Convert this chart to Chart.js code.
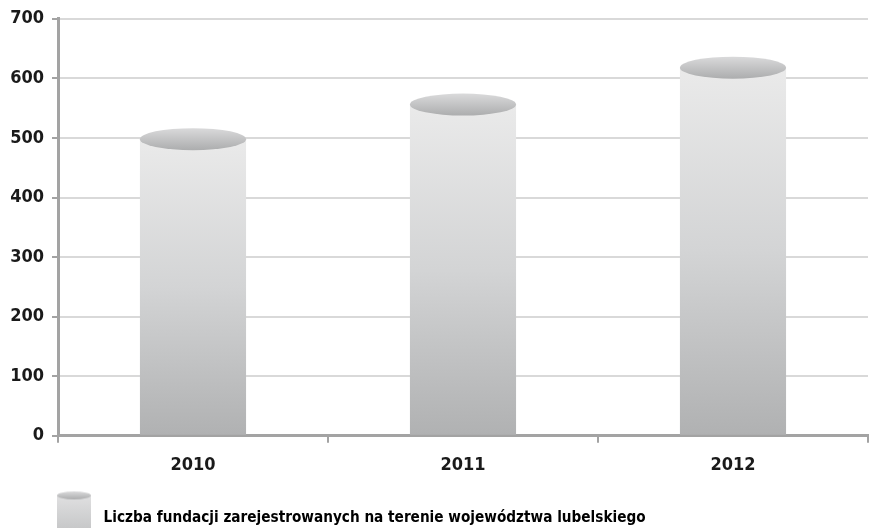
<!DOCTYPE html>
<html>
<head>
<meta charset="utf-8">
<script src="https://cdn.jsdelivr.net/npm/chart.js@4.4.0/dist/chart.umd.min.js"></script>
<style>
  html, body { margin: 0; padding: 0; background: #fff; }
  #wrap { width: 870px; height: 528px; }
</style>
</head>
<body>
<div id="wrap"><canvas id="wykres"></canvas></div>
<script>
// ===== DANE =====
const lata = ['2010', '2011', '2012'];
const liczbaFundacji = [498, 556, 618];
const etykietaSerii = 'Liczba fundacji zarejestrowanych na terenie województwa lubelskiego';
const osY = { min: 0, max: 700, krok: 100 };

const CZCIONKA = "'DejaVu Sans Condensed', 'Liberation Sans Narrow', sans-serif";
const SZARY_OSI = '#a3a3a3';
const WYS_DEKLA = 22;      // wysokość elipsy na górze walca
const ROZM_LEGENDY = 15.2;
const ODSTEP_LEGENDY = 22;

function gradientKorpusu(ctx, gora, dol) {
    const g = ctx.createLinearGradient(0, gora, 0, dol);
    g.addColorStop(0, '#eaeaea');
    g.addColorStop(0.5, '#d3d4d5');
    g.addColorStop(1, '#b0b1b2');
    return g;
}

function gradientDekla(ctx, gora, dol) {
    const g = ctx.createLinearGradient(0, gora, 0, dol);
    g.addColorStop(0, '#dadadb');
    g.addColorStop(1, '#acadae');
    return g;
}

// ikonka walca do legendy (pusty margines z lewej przesuwa ją pod oś Y)
function ikonaWalca() {
    const c = document.createElement('canvas');
    c.width = 74; c.height = 56;
    const ctx = c.getContext('2d');
    const x0 = 35, y0 = 1, w = 34, h = 44;
    const g = ctx.createLinearGradient(0, y0 + 4, 0, y0 + h);
    g.addColorStop(0, '#e0e0e1');
    g.addColorStop(1, '#c2c3c4');
    ctx.fillStyle = g;
    ctx.fillRect(x0, y0 + 4, w, h - 4);
    ctx.beginPath();
    ctx.ellipse(x0 + w / 2, y0 + 4, w / 2, 4, 0, 0, Math.PI * 2);
    ctx.fillStyle = gradientDekla(ctx, y0, y0 + 8);
    ctx.fill();
    return c;
}

// ===== PLUGIN: górna elipsa walca =====
const pluginWalec = {
    id: 'walec',
    afterDatasetsDraw(chart) {
        const ctx = chart.ctx;
        const meta = chart.getDatasetMeta(0);
        meta.data.forEach(bar => {
            const r = bar.width / 2;
            const h = WYS_DEKLA / 2;
            ctx.save();
            ctx.beginPath();
            ctx.ellipse(bar.x, bar.y, r, h, 0, 0, Math.PI * 2);
            ctx.fillStyle = gradientDekla(ctx, bar.y - h, bar.y + h);
            ctx.fill();
            ctx.restore();
        });
    }
};

new Chart(document.getElementById('wykres'), {
    type: 'bar',
    data: {
        labels: lata,
        datasets: [{
            label: etykietaSerii,
            data: liczbaFundacji,
            backgroundColor: (context) => {
                const chart = context.chart;
                if (!chart.chartArea || context.parsed === undefined) return '#cccccc';
                const y = chart.scales.y;
                return gradientKorpusu(chart.ctx, y.getPixelForValue(context.parsed.y), y.getPixelForValue(0));
            },
            borderWidth: 0,
            categoryPercentage: 1,
            barPercentage: 0.393
        }]
    },
    options: {
        responsive: true,
        maintainAspectRatio: false,
        animation: false,
        layout: { padding: { top: 4, right: 2, left: 0, bottom: -8 } },
        plugins: {
            tooltip: { enabled: false },
            legend: {
                position: 'bottom',
                align: 'start',
                labels: {
                    usePointStyle: true,
                    pointStyleWidth: 74,
                    padding: ODSTEP_LEGENDY,
                    color: '#1a1a1a',
                    font: { family: CZCIONKA, size: ROZM_LEGENDY, weight: 'bold' },
                    generateLabels: () => [{
                        text: etykietaSerii,
                        pointStyle: ikonaWalca(),
                        fillStyle: '#cccccc',
                        strokeStyle: 'transparent',
                        lineWidth: 0,
                        hidden: false,
                        datasetIndex: 0
                    }]
                }
            }
        },
        scales: {
            x: {
                afterFit: (skala) => { skala.height = 53; },
                grid: {
                    offset: true,
                    drawOnChartArea: false,
                    color: SZARY_OSI,
                    lineWidth: 2,
                    tickLength: 7
                },
                border: { color: SZARY_OSI, width: 3 },
                ticks: {
                    color: '#1a1a1a',
                    padding: 12,
                    font: { family: CZCIONKA, size: 18, weight: 'bold' }
                }
            },
            y: {
                min: osY.min,
                max: osY.max,
                afterFit: (skala) => { skala.width = 58; },
                grid: {
                    color: '#d9d9d9',
                    lineWidth: 2,
                    tickColor: SZARY_OSI,
                    tickLength: 6
                },
                border: { color: SZARY_OSI, width: 3 },
                ticks: {
                    stepSize: osY.krok,
                    color: '#1a1a1a',
                    padding: 8,
                    font: { family: CZCIONKA, size: 18, weight: 'bold' }
                }
            }
        }
    },
    plugins: [pluginWalec]
});
</script>
</body>
</html>
